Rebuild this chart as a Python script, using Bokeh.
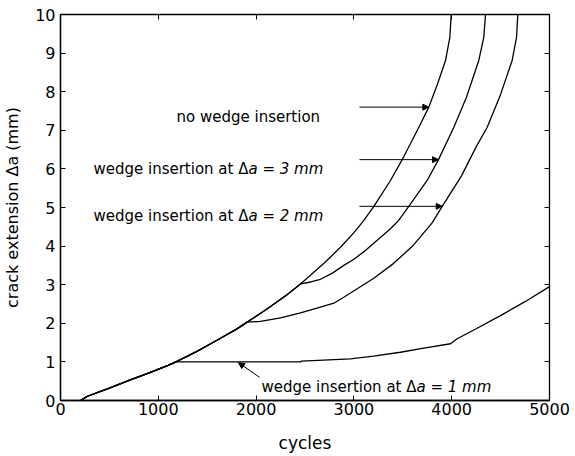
from bokeh.plotting import figure
from bokeh.models import Range1d, LinearAxis, FixedTicker, Label, Arrow, NormalHead
from bokeh.embed import file_html
from bokeh.resources import INLINE

# ---- data ----
x_ticks = [0, 1000, 2000, 3000, 4000, 5000]
y_ticks = [0, 1, 2, 3, 4, 5, 6, 7, 8, 9, 10]

# no wedge insertion
base_cycles = [204, 276, 500, 700, 900, 1100, 1180, 1400, 1600, 1800, 1909, 2100, 2300,
               2454, 2700, 2863, 3000, 3100, 3204, 3374, 3507, 3664, 3766, 3855, 3937,
               3981, 3995]
base_da = [0.0, 0.11, 0.32, 0.52, 0.71, 0.91, 1.0, 1.28, 1.56, 1.85, 2.03, 2.35, 2.71,
           3.02, 3.57, 3.97, 4.35, 4.66, 5.03, 5.70, 6.3, 7.08, 7.60, 8.2, 8.81,
           9.41, 10.0]

# wedge insertion at 1 mm (branch after 1180 cycles)
w1_cycles = [1180, 1600, 2000, 2454, 2465, 2965, 3200, 3476, 3700, 3988, 4056, 4250,
             4499, 4750, 5000]
w1_da = [1.0, 1.0, 1.0, 1.0, 1.02, 1.08, 1.15, 1.25, 1.35, 1.47, 1.60, 1.86,
         2.20, 2.56, 2.95]

# wedge insertion at 2 mm (branch after 1909 cycles)
w2_cycles = [1909, 2045, 2250, 2454, 2658, 2795, 2900, 3050, 3200, 3400, 3600, 3800,
             3903, 4100, 4250, 4363, 4500, 4618, 4663, 4676]
w2_da = [2.03, 2.05, 2.14, 2.27, 2.42, 2.52, 2.68, 2.92, 3.16, 3.54, 4.0, 4.6,
         5.03, 5.82, 6.57, 7.08, 7.93, 8.81, 9.41, 10.0]

# wedge insertion at 3 mm (branch after 2454 cycles)
w3_cycles = [2454, 2560, 2658, 2780, 2897, 3000, 3100, 3238, 3374, 3456, 3561, 3749,
             3865, 4022, 4150, 4277, 4328, 4346]
w3_da = [3.02, 3.07, 3.14, 3.30, 3.50, 3.66, 3.85, 4.15, 4.45, 4.66, 5.03, 5.70,
         6.24, 7.08, 7.85, 8.81, 9.41, 10.0]

# annotations
ann_plain = ["wedge insertion at \u0394", "wedge insertion at \u0394", "wedge insertion at \u0394"]
ann_italic = ["a = 3 mm", "a = 2 mm", "a = 1 mm"]
ann_split_x = [1922, 1922, 3640]
ann_base_y = [6.0, 4.79, 0.345]
nowedge_text = "no wedge insertion"
nowedge_pos = (1186, 7.34)

arrow_x0 = [3057, 3057, 3057, 2035]
arrow_y0 = [7.6, 6.24, 5.03, 0.60]
arrow_x1 = [3766, 3865, 3903, 1820]
arrow_y1 = [7.6, 6.24, 5.03, 0.98]

ylabel = "crack extension \u0394a (mm)"
xlabel = "cycles"

FONT = "DejaVu Sans"

p = figure(width=575, height=456, output_backend="svg", toolbar_location=None,
           x_range=Range1d(0, 5000), y_range=Range1d(0, 10),
           min_border_left=60, min_border_right=26, min_border_top=14, min_border_bottom=56)
p.xgrid.visible = False
p.ygrid.visible = False
p.outline_line_color = "black"
p.outline_line_width = 1.3
p.background_fill_color = "white"
p.border_fill_color = "white"

for ax, ticks in ((p.xaxis[0], x_ticks), (p.yaxis[0], y_ticks)):
    ax.ticker = FixedTicker(ticks=ticks)
    ax.major_tick_in = 5
    ax.major_tick_out = 0
    ax.minor_tick_line_color = None
    ax.axis_line_width = 1.3
    ax.major_tick_line_width = 1
    ax.major_label_text_font = FONT
    ax.major_label_text_font_size = "16px"
    ax.major_label_text_color = "black"
    ax.axis_label_text_font = FONT
    ax.axis_label_text_font_style = "normal"
    ax.axis_label_text_color = "black"
p.xaxis.major_label_standoff = 2
p.yaxis.major_label_standoff = 5
p.xaxis.axis_label = xlabel
p.xaxis.axis_label_text_font_size = "17px"
p.xaxis.axis_label_standoff = 15
p.yaxis.axis_label = ylabel
p.yaxis.axis_label_text_font_size = "16px"
p.yaxis.axis_label_standoff = 10

top = LinearAxis(ticker=FixedTicker(ticks=x_ticks), major_tick_in=5, major_tick_out=0,
                 minor_tick_line_color=None, axis_line_color=None,
                 major_label_text_font_size="0px", major_label_text_color=None,
                 major_label_standoff=0)
right = LinearAxis(ticker=FixedTicker(ticks=y_ticks), major_tick_in=5, major_tick_out=0,
                   minor_tick_line_color=None, axis_line_color=None,
                   major_label_text_font_size="0px", major_label_text_color=None,
                   major_label_standoff=0)
p.add_layout(top, "above")
p.add_layout(right, "right")

# curves
def branch(cx, cy):
    xs = [x for x in base_cycles if x < cx[0]] + cx
    ys = [y for x, y in zip(base_cycles, base_da) if x < cx[0]] + cy
    return xs, ys

p.line(base_cycles, base_da, line_color="black", line_width=1.3)
for cx, cy in ((w1_cycles, w1_da), (w2_cycles, w2_da), (w3_cycles, w3_da)):
    xs, ys = branch(cx, cy)
    p.line(xs, ys, line_color="black", line_width=1.3)

# arrows
for x0, y0, x1, y1 in zip(arrow_x0, arrow_y0, arrow_x1, arrow_y1):
    p.add_layout(Arrow(end=NormalHead(size=6, fill_color="black", line_color="black", line_width=1),
                       x_start=x0, y_start=y0, x_end=x1, y_end=y1,
                       line_color="black", line_width=1))

# annotation texts
p.add_layout(Label(x=nowedge_pos[0], y=nowedge_pos[1], text=nowedge_text,
                   text_font=FONT, text_font_size="15px", text_color="black",
                   text_align="left", text_baseline="alphabetic"))
for t1, t2, sx, by in zip(ann_plain, ann_italic, ann_split_x, ann_base_y):
    p.add_layout(Label(x=sx, y=by, text=t1, text_font=FONT, text_font_size="15px",
                       text_color="black", text_align="right", text_baseline="alphabetic"))
    p.add_layout(Label(x=sx, y=by, text=t2, text_font=FONT, text_font_size="15px",
                       text_font_style="italic", text_color="black",
                       text_align="left", text_baseline="alphabetic"))

open("out.html", "w").write(file_html(p, INLINE))
